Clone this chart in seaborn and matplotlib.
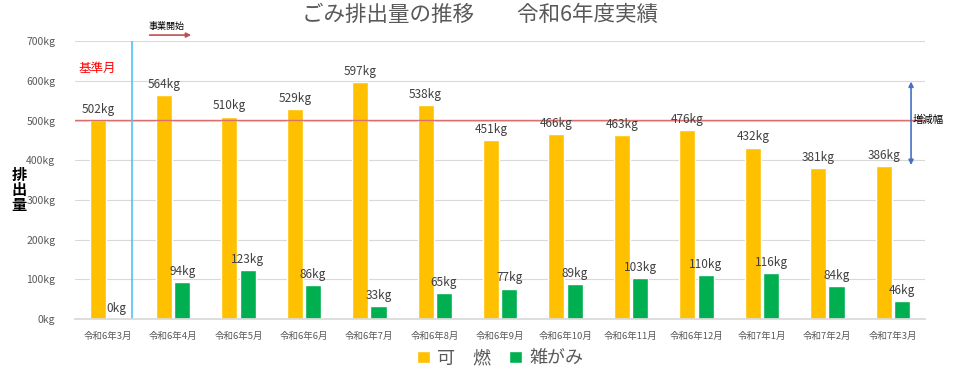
import pandas as pd
import matplotlib.pyplot as plt
import seaborn as sns

months = ['令和6年3月', '令和6年4月', '令和6年5月', '令和6年6月', '令和6年7月',
          '令和6年8月', '令和6年9月', '令和6年10月', '令和6年11月', '令和6年12月',
          '令和7年1月', '令和7年2月', '令和7年3月']
kanen = [502, 564, 510, 529, 597, 538, 451, 466, 463, 476, 432, 381, 386]
zatsugami = [0, 94, 123, 86, 33, 65, 77, 89, 103, 110, 116, 84, 46]
series = ['可　燃', '雑がみ']
colors = ['#FFC000', '#00B050']
base_month = 502

sns.set_theme(style='white')
plt.rcParams['font.family'] = ['Noto Sans CJK JP', 'DejaVu Sans']

df = pd.DataFrame({'month': months * 2,
                   'kg': kanen + zatsugami,
                   'kind': [series[0]] * len(months) + [series[1]] * len(months)})

fig = plt.figure(figsize=(9.6, 3.8), dpi=100)
ax = fig.add_axes([0.078, 0.16, 0.886, 0.732])

sns.barplot(data=df, x='month', y='kg', hue='kind', palette=colors, saturation=1,
            width=0.56, gap=0.12, ax=ax, legend=True)

for cont in ax.containers:
    ax.bar_label(cont, labels=[f'{int(v)}kg' for v in cont.datavalues],
                 padding=3, fontsize=8.5, color='#404040')

ax.set_ylim(0, 700)
ax.set_xlim(-0.5, len(months) - 0.5)
ax.set_yticks(range(0, 701, 100))
ax.set_yticklabels([f'{v}kg' for v in range(0, 701, 100)], fontsize=7.5, color='#595959')
ax.tick_params(axis='x', labelsize=6.8, labelcolor='#595959', pad=3)
ax.tick_params(axis='y', pad=8)
ax.yaxis.grid(True, color='#D9D9D9', linewidth=0.8)
ax.set_axisbelow(True)
for s in ['top', 'right', 'left']:
    ax.spines[s].set_visible(False)
ax.spines['bottom'].set_color('#D9D9D9')
ax.set_xlabel('')
ax.set_ylabel('')

# 基準月ライン
ax.axhline(base_month, color='#D9706E', linewidth=1, zorder=1)
ax.text(-0.45, 630, '基準月', color='#FF0000', fontsize=9, va='center')

# 事業開始
ax.axvline(0.37, color='#4FC3F7', linewidth=1.2, zorder=1)
ax.annotate('', xy=(1.32, 715), xytext=(0.6, 715), annotation_clip=False,
            arrowprops=dict(arrowstyle='-|>', color='#C0504D', lw=1.2,
                            mutation_scale=7))
ax.text(0.62, 737, '事業開始', fontsize=6.5, color='black', va='center')

# 増減幅
ax.annotate('', xy=(12.28, 605), xytext=(12.28, 381), annotation_clip=False,
            arrowprops=dict(arrowstyle='<|-|>', color='#4472C4', lw=1.2,
                            mutation_scale=7))
ax.text(12.3, 502, '増減幅', fontsize=7.5, color='black', va='center')

ax.legend(loc='center', bbox_to_anchor=(0.5, -0.14), ncol=2, frameon=False,
          fontsize=13, handlelength=0.7, handleheight=0.7, handletextpad=0.4,
          columnspacing=1.0, labelcolor='#595959')

fig.text(0.5, 0.96, 'ごみ排出量の推移　　令和6年度実績', ha='center', va='center',
         fontsize=15.5, color='#595959')
fig.text(0.02, 0.50, '排\n出\n量', ha='center', va='center', fontsize=11,
         color='black', fontweight='bold', linespacing=0.95)

plt.savefig('out.png', dpi=100)
